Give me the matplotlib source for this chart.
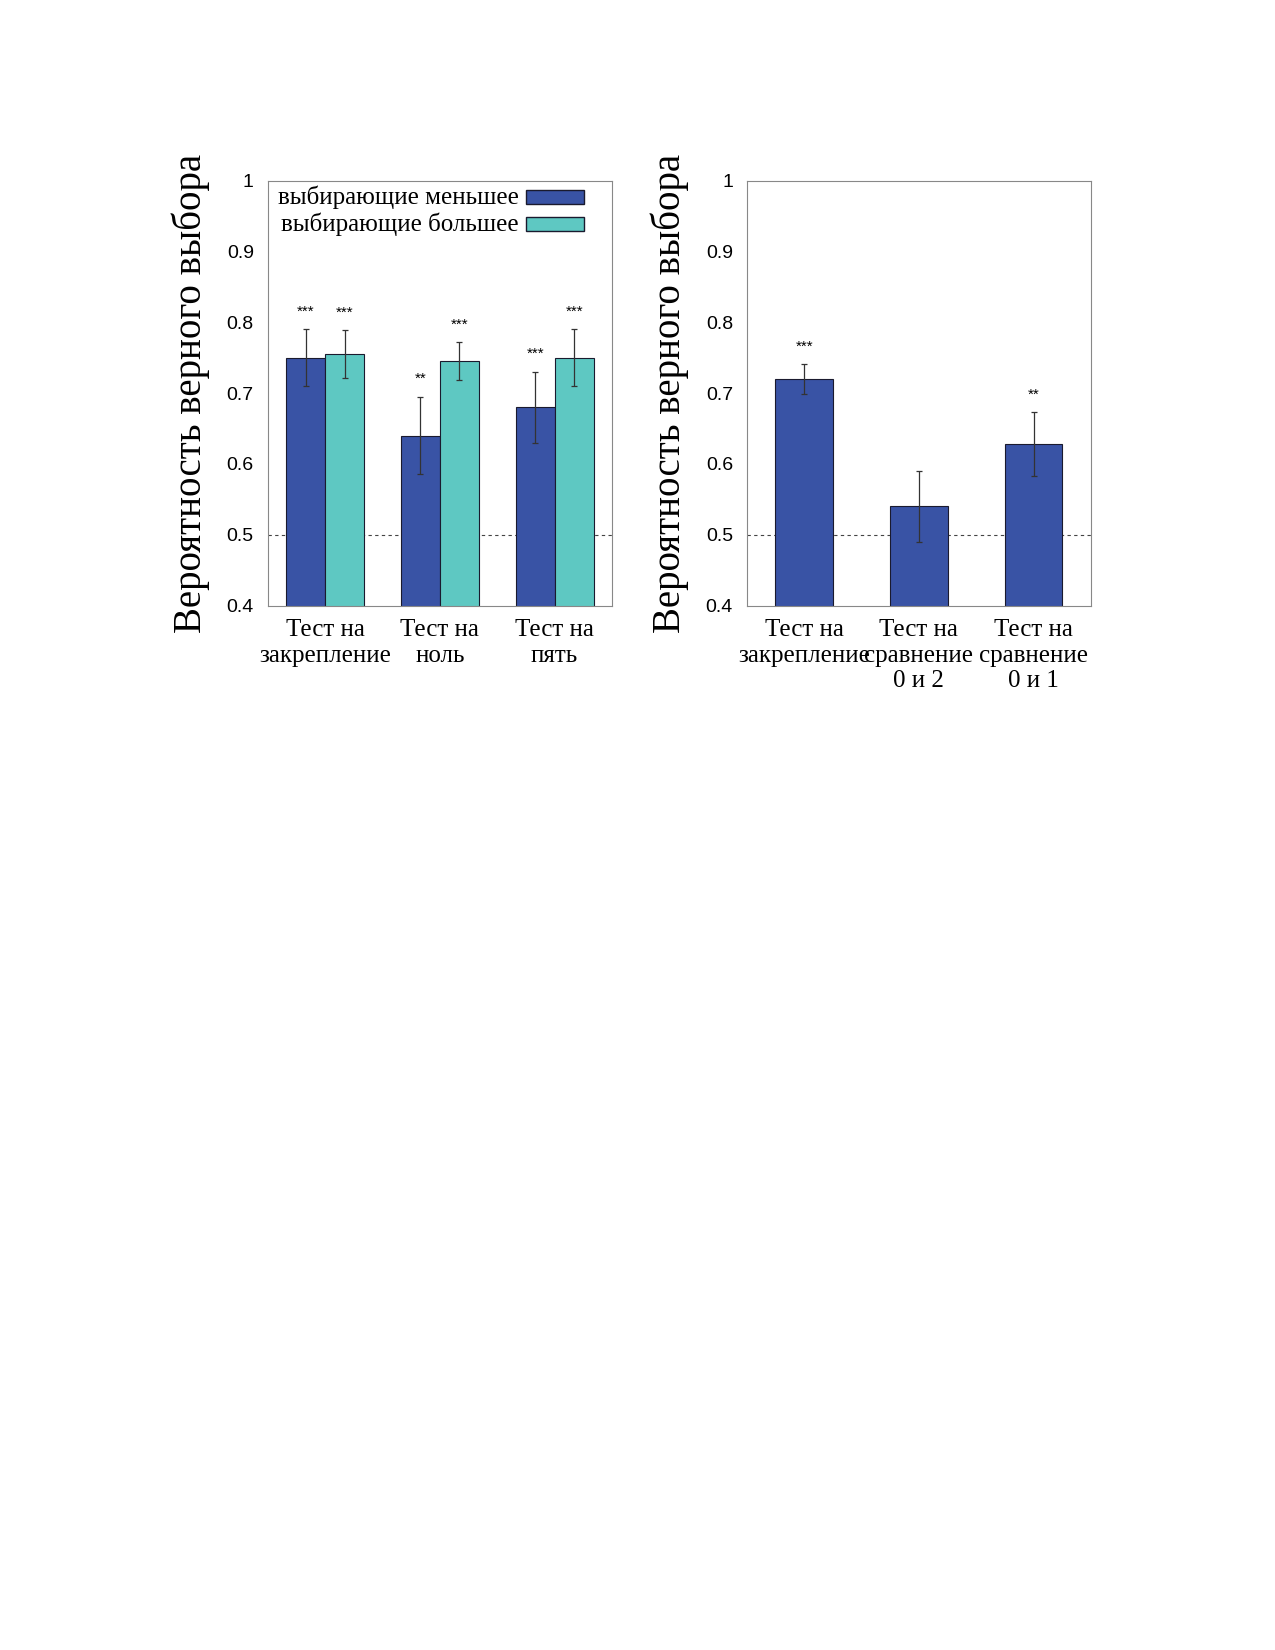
import numpy as np
import matplotlib.pyplot as plt
from matplotlib.patches import Rectangle

left_labels = ["Тест на\nзакрепление", "Тест на\nноль", "Тест на\nпять"]
smaller_vals = [0.75, 0.64, 0.68]
smaller_err = [0.04, 0.055, 0.05]
smaller_sig = ["***", "**", "***"]
larger_vals = [0.755, 0.745, 0.75]
larger_err = [0.034, 0.027, 0.04]
larger_sig = ["***", "***", "***"]

right_labels = ["Тест на\nзакрепление", "Тест на\nсравнение\n0 и 2", "Тест на\nсравнение\n0 и 1"]
right_vals = [0.72, 0.54, 0.628]
right_err = [0.021, 0.05, 0.045]
right_sig = ["***", "", "**"]

c_dark = "#3953a5"
c_teal = "#5ec8c2"
serif = "Liberation Serif"
sans = "Liberation Sans"

fig = plt.figure(figsize=(12.75, 16.5), dpi=100)
ax1 = fig.add_axes([0.21, 0.633, 0.27, 0.2576])
ax2 = fig.add_axes([0.5857, 0.633, 0.27, 0.2576])


def style(ax):
    ax.set_ylim(0.4, 1.0)
    ax.set_xlim(-0.5, 2.5)
    ax.set_yticks([0.4, 0.5, 0.6, 0.7, 0.8, 0.9, 1.0])
    ax.set_yticklabels(["0.4", "0.5", "0.6", "0.7", "0.8", "0.9", "1"], fontsize=14, family=sans)
    ax.tick_params(length=0, pad=10)
    for s in ax.spines.values():
        s.set_color("#888888")
        s.set_linewidth(0.8)
    ax.axhline(0.5, color="#444444", linestyle=(0, (3, 3)), linewidth=0.8, zorder=1)
    ax.set_ylabel("Вероятность верного выбора", fontsize=28, family=serif, labelpad=12)


style(ax1)
x = np.arange(3)
w = 0.34
ek = dict(ecolor="#333333", elinewidth=0.9, capsize=2.5, capthick=0.9)
ax1.bar(x - w / 2, smaller_vals, w, yerr=smaller_err, color=c_dark, edgecolor="#1a1a2e", linewidth=0.8, error_kw=ek, zorder=2)
ax1.bar(x + w / 2, larger_vals, w, yerr=larger_err, color=c_teal, edgecolor="#1a1a2e", linewidth=0.8, error_kw=ek, zorder=2)
for xi, v, e, s in zip(x - w / 2, smaller_vals, smaller_err, smaller_sig):
    ax1.text(xi, v + e + 0.015, s, ha="center", va="bottom", fontsize=11, family=sans)
for xi, v, e, s in zip(x + w / 2, larger_vals, larger_err, larger_sig):
    ax1.text(xi, v + e + 0.015, s, ha="center", va="bottom", fontsize=11, family=sans)
ax1.set_xticks(x)
ax1.set_xticklabels(left_labels, fontsize=18, family=serif, linespacing=1.2)

# legend
ax1.text(0.73, 0.960, "выбирающие меньшее", transform=ax1.transAxes, ha="right", va="center", fontsize=18, family=serif)
ax1.text(0.73, 0.897, "выбирающие большее", transform=ax1.transAxes, ha="right", va="center", fontsize=18, family=serif)
ax1.add_patch(Rectangle((0.75, 0.945), 0.17, 0.032, transform=ax1.transAxes, facecolor=c_dark, edgecolor="#1a1a2e", linewidth=1))
ax1.add_patch(Rectangle((0.75, 0.882), 0.17, 0.032, transform=ax1.transAxes, facecolor=c_teal, edgecolor="#1a1a2e", linewidth=1))

style(ax2)
ax2.bar(x, right_vals, 0.5, yerr=right_err, color=c_dark, edgecolor="#1a1a2e", linewidth=0.8, error_kw=ek, zorder=2)
for xi, v, e, s in zip(x, right_vals, right_err, right_sig):
    ax2.text(xi, v + e + 0.015, s, ha="center", va="bottom", fontsize=11, family=sans)
ax2.set_xticks(x)
ax2.set_xticklabels(right_labels, fontsize=18, family=serif, linespacing=1.2)

fig.savefig("out.png", dpi=100)
